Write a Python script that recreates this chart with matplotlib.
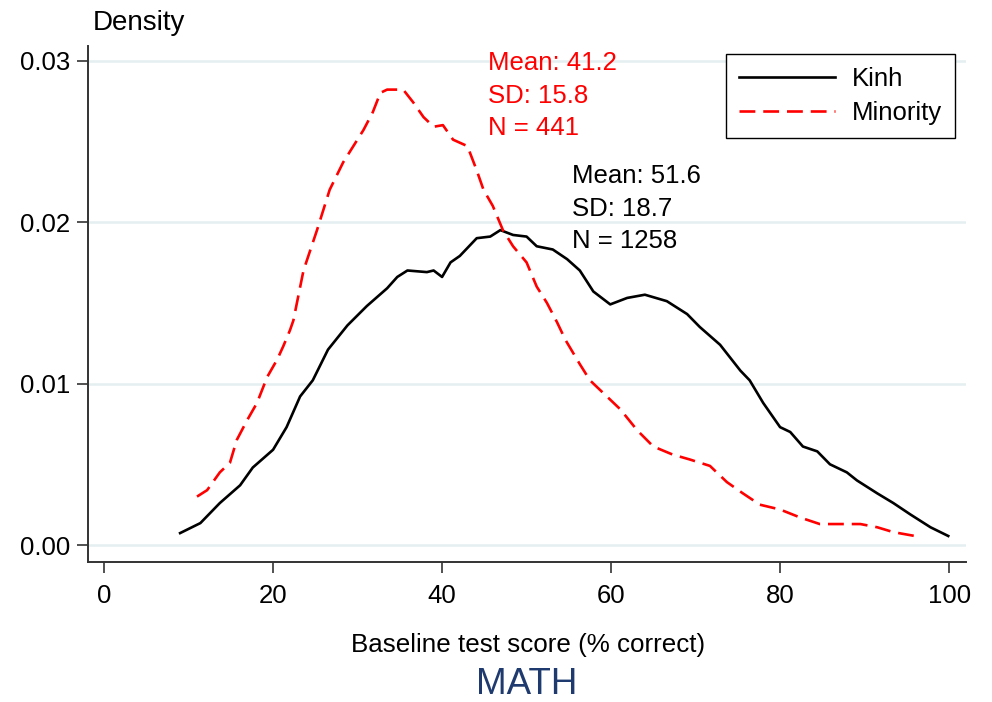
import matplotlib
matplotlib.use("Agg")
import matplotlib.pyplot as plt

plt.rcParams['font.family'] = ['Liberation Sans', 'DejaVu Sans']

# Kernel density curves
kinh_x = [9.0, 11.4, 13.7, 16.1, 17.6, 20.0, 21.6, 23.2, 24.7, 26.5, 28.8, 31.1, 33.5, 34.7,
          35.9, 38.2, 39.0, 40.0, 41.0, 42.1, 44.1, 45.7, 46.9, 48.4, 50.0, 51.2, 53.1, 54.8,
          56.3, 57.9, 59.9, 61.9, 64.0, 66.6, 69.0, 70.5, 72.9, 75.3, 76.4, 78.0, 80.0, 81.2,
          82.7, 84.4, 85.9, 87.9, 89.1, 91.5, 93.4, 95.4, 97.8, 99.9]
kinh_y = [0.00074, 0.00136, 0.0026, 0.0037, 0.0048, 0.0059, 0.0073, 0.0092, 0.0102, 0.0121,
          0.0136, 0.0148, 0.0159, 0.0166, 0.0170, 0.0169, 0.0170, 0.0166, 0.0175, 0.0179,
          0.0190, 0.0191, 0.0195, 0.0192, 0.0191, 0.0185, 0.0183, 0.0177, 0.0170, 0.0157,
          0.0149, 0.0153, 0.0155, 0.0151, 0.0143, 0.0135, 0.0124, 0.0108, 0.0102, 0.0088,
          0.0073, 0.0070, 0.0061, 0.0058, 0.0050, 0.0045, 0.0040, 0.0032, 0.0026, 0.0019,
          0.0011, 0.00056]

minority_x = [11.0, 12.2, 13.7, 14.9, 15.7, 16.9, 18.1, 19.3, 20.5, 21.2, 22.0, 22.4, 23.6,
              25.2, 26.7, 28.3, 29.5, 30.7, 31.8, 32.7, 33.5, 35.4, 36.6, 37.8, 39.0, 40.1,
              41.3, 43.0, 44.1, 44.9, 46.0, 47.2, 48.4, 50.0, 51.2, 52.4, 53.6, 54.6, 56.3,
              57.5, 58.7, 61.1, 63.1, 65.0, 67.3, 69.3, 71.7, 73.7, 75.6, 77.6, 80.0, 82.4,
              84.7, 87.1, 89.5, 91.5, 93.4, 96.6]
minority_y = [0.0030, 0.0034, 0.0045, 0.0051, 0.0065, 0.0077, 0.0088, 0.0104, 0.0115, 0.0123,
              0.0133, 0.0139, 0.0170, 0.0195, 0.0220, 0.0237, 0.0247, 0.0257, 0.0268, 0.0280,
              0.0282, 0.0282, 0.0274, 0.0265, 0.0259, 0.0260, 0.0251, 0.0247, 0.0232, 0.0220,
              0.0210, 0.0195, 0.0185, 0.0175, 0.0160, 0.0150, 0.0138, 0.0127, 0.0112, 0.0102,
              0.0096, 0.0084, 0.0071, 0.0061, 0.0056, 0.0053, 0.0049, 0.0039, 0.0032, 0.0025,
              0.0022, 0.0017, 0.0013, 0.0013, 0.0013, 0.0011, 0.0008, 0.0005]

series_labels = ["Kinh", "Minority"]
x_ticks = [0, 20, 40, 60, 80, 100]
y_ticks = [0.00, 0.01, 0.02, 0.03]

minority_stats = ["Mean: 41.2", "SD: 15.8", "N = 441"]
kinh_stats = ["Mean: 51.6", "SD: 18.7", "N = 1258"]
minority_stats_pos = (45.4, [0.02939, 0.02740, 0.02536])
kinh_stats_pos = (55.4, [0.02244, 0.02040, 0.01841])

fig = plt.figure(figsize=(9.92, 7.02), dpi=100)
ax = fig.add_axes([88/992, 1-562/702, (966-88)/992, (562-46)/702])

ax.set_xlim(-1.9, 102.0)
ax.set_ylim(-0.00105, 0.0309)

for yt in y_ticks:
    ax.axhline(yt, color='#e5eef1', lw=1.8, zorder=0)

ax.plot(kinh_x, kinh_y, color='black', lw=1.9, label=series_labels[0])
ax.plot(minority_x, minority_y, color='#ff0000', lw=1.9, dashes=(6, 3), label=series_labels[1])

for s, yy in zip(minority_stats, minority_stats_pos[1]):
    ax.text(minority_stats_pos[0], yy, s, color='#ff0000', fontsize=18.5, va='baseline', ha='left')
for s, yy in zip(kinh_stats, kinh_stats_pos[1]):
    ax.text(kinh_stats_pos[0], yy, s, color='black', fontsize=18.5, va='baseline', ha='left')

ax.set_xticks(x_ticks)
ax.set_xticklabels([str(t) for t in x_ticks])
ax.set_yticks(y_ticks)
ax.set_yticklabels([f"{t:.2f}" for t in y_ticks])
ax.tick_params(axis='both', labelsize=18.5, length=8, width=1.2, color='#333333', direction='out')
ax.tick_params(axis='x', pad=8)
ax.tick_params(axis='y', pad=5)

for side in ['top', 'right']:
    ax.spines[side].set_visible(False)
for side in ['left', 'bottom']:
    ax.spines[side].set_linewidth(1.4)
    ax.spines[side].set_color('#333333')

leg = ax.legend(loc='upper right', bbox_to_anchor=(955/992, 1-54/702),
                bbox_transform=fig.transFigure, borderaxespad=0, fontsize=18.5,
                frameon=True, fancybox=False, edgecolor='black', framealpha=1,
                handlelength=3.75, handletextpad=0.65, labelspacing=0.4, borderpad=0.5)
leg.get_frame().set_linewidth(1.0)

fig.text(93/992, 1-23/702, "Density", fontsize=20, ha='left', va='center')
fig.text(528/992, 1-645/702, "Baseline test score (% correct)", fontsize=18.7, ha='center', va='center')
fig.text(527/992, 1-684/702, "MATH", fontsize=26.5, ha='center', va='center', color='#1e3a6e')

fig.savefig("out.png", dpi=100)
